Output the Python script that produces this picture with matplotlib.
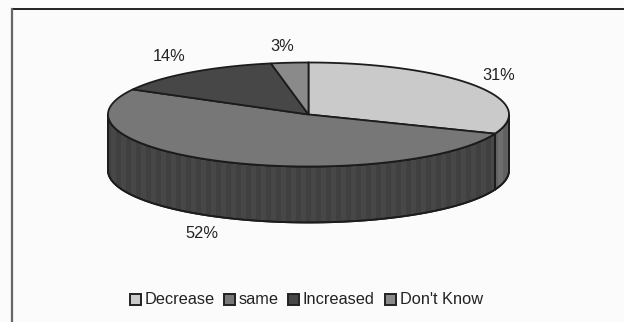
import numpy as np
import matplotlib
matplotlib.use('Agg')
import matplotlib.pyplot as plt
from matplotlib.patches import Rectangle

labels = ['Decrease', 'same', 'Increased', "Don't Know"]
values = [31, 52, 14, 3]
top_colors = ['#cacaca', '#777777', '#474747', '#8a8a8a']
side_colors = ['#6e6e6e', '#474747', '#2e2e2e', '#505050']

plt.rcParams['font.family'] = ['Liberation Sans', 'DejaVu Sans']

W, H = 624, 322
fig = plt.figure(figsize=(W / 100, H / 100), dpi=100, facecolor='#fbfbfb')
ax = fig.add_axes([0, 0, 1, 1])
ax.set_xlim(0, W)
ax.set_ylim(H, 0)
ax.axis('off')

# pie geometry in pixels
cx, cy = 308.5, 114.5
a, b = 200.5, 52
depth = 56
edge = '#1c1c1c'


def rim(t):
    # t is measured clockwise from twelve o'clock
    return cx + a * np.sin(t), cy - b * np.cos(t)


bounds = 2 * np.pi * np.cumsum([0] + values) / sum(values)

# side wall, only the part facing the viewer (90 to 270 degrees)
for i in range(len(values)):
    lo = max(bounds[i], np.pi / 2)
    hi = min(bounds[i + 1], 3 * np.pi / 2)
    if lo >= hi:
        continue
    t = np.linspace(lo, hi, 200)
    x, y = rim(t)
    wall = ax.fill(np.r_[x, x[::-1]], np.r_[y, y[::-1] + depth],
                   facecolor=side_colors[i], edgecolor=edge, linewidth=1.3, zorder=2)[0]
    # faint vertical banding on the wall
    bands = ax.vlines(np.arange(x.min(), x.max(), 10), cy, cy + b + depth + 2,
                      color='#1c1c1c', alpha=0.16, linewidth=3.5, zorder=2.1)
    bands.set_clip_path(wall)
    ax.fill(np.r_[x, x[::-1]], np.r_[y, y[::-1] + depth],
            facecolor='none', edgecolor=edge, linewidth=1.3, zorder=2.2)

# top of the pie
for i in range(len(values)):
    t = np.linspace(bounds[i], bounds[i + 1], 200)
    x, y = rim(t)
    ax.fill(np.r_[cx, x], np.r_[cy, y],
            facecolor=top_colors[i], edgecolor=edge, linewidth=1.3, zorder=3)

# percent labels
label_pos = [(499, 75), (202, 233), (169, 56), (282, 46)]
for v, (px, py) in zip(values, label_pos):
    ax.text(px, py, '%d%%' % v, ha='center', va='center', fontsize=11.8,
            color='#222222', zorder=4)

# legend
swatch_x = [130, 224, 288, 385]
text_x = [145, 239, 303, 400]
leg_y = 299.5
for i, lab in enumerate(labels):
    ax.add_patch(Rectangle((swatch_x[i], leg_y - 5.5), 11, 11, facecolor=top_colors[i],
                           edgecolor='#222222', linewidth=1.4, zorder=4))
    ax.text(text_x[i], leg_y, lab, ha='left', va='center', fontsize=11.8,
            color='#222222', zorder=4)

# frame, open at the right and at the bottom
ax.plot([W, 11.5], [8.5, 8.5], color='#222222', linewidth=1.4, zorder=1)
ax.plot([11.8, 11.8], [8.5, H], color='#666666', linewidth=1.6, zorder=1)

fig.savefig('out.png', dpi=100, facecolor=fig.get_facecolor())
